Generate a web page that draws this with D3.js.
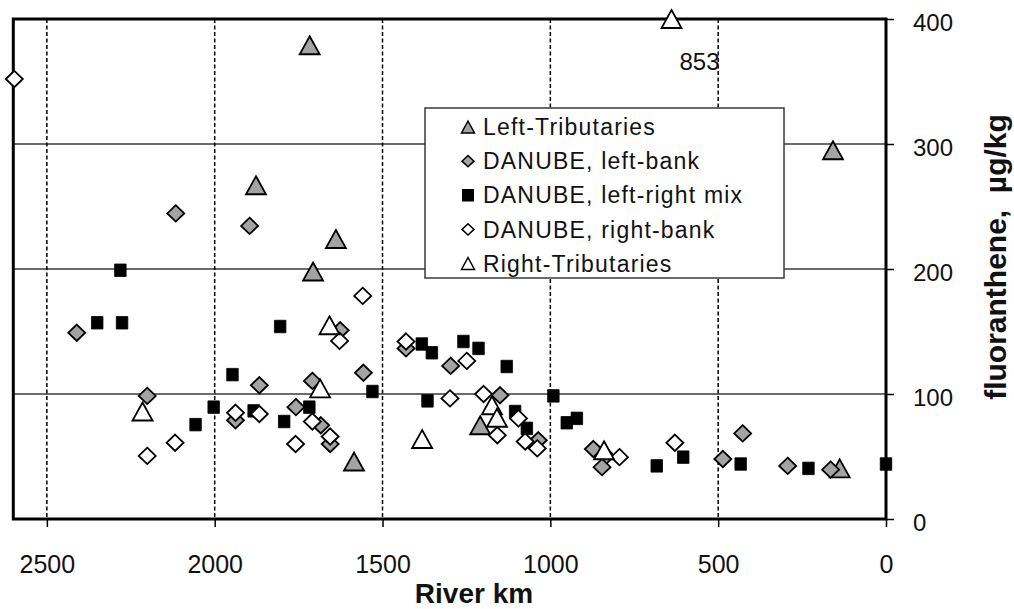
<!DOCTYPE html>
<html>
<head>
<meta charset="utf-8">
<script src="https://cdn.jsdelivr.net/npm/d3@7"></script>
<style>
  body { margin: 0; background: #fff; }
  svg { display: block; }
  text { font-family: "Liberation Sans", Arial, Helvetica, sans-serif; fill: #111; }
</style>
</head>
<body>
<svg id="chart" width="1014" height="609"></svg>
<script>
// Axis ticks
const kmTicks = [2500, 2000, 1500, 1000, 500, 0];
const valueTicks = [0, 100, 200, 300, 400];

// Fluoranthene in sediments, [river km, µg/kg]
const leftTributaries = [
  [1717, 379], [1877, 267], [1639, 224], [1707, 198], [1585, 46],
  [1209, 75], [158, 295], [138, 40.5]
];
const danubeLeftBank = [
  [2411, 149], [2116, 244.5], [1896, 234.5], [1626, 151], [1867, 107],
  [1709, 110.5], [2201, 98.5], [1938, 79], [1758, 89.5], [1684, 75],
  [1656, 60], [1557, 117], [1430, 136.5], [1297, 122.5], [1150, 99],
  [1036, 63], [872, 56], [834, 50.5], [846, 41.5], [486, 48],
  [427, 68.5], [293, 42.5], [165, 39.5]
];
const danubeMix = [
  [2281, 199], [2350, 157], [2276, 157], [1805, 154], [1947, 115.5],
  [2003, 89.5], [2057, 75.5], [1884, 86.5], [1718, 89.5], [1793, 78],
  [1530, 102], [1383, 140], [1353, 133], [1259, 142], [1214, 136.5],
  [1130, 122], [1366, 94.5], [991, 98.5], [1105, 86], [1070, 72.5],
  [951, 77], [921, 80.5], [683, 42.5], [604, 49.5], [433, 44],
  [231, 40.5], [0, 44]
];
const danubeRightBank = [
  [2597, 352], [1628, 142.5], [1559, 178.5], [2118, 61], [2201, 50.5],
  [1938, 85], [1867, 84], [1759, 60], [1709, 78], [1656, 66],
  [1430, 142], [1249, 126.5], [1299, 96.5], [1199, 100], [1158, 67],
  [1095, 80.5], [1075, 62], [1039, 56.5], [794, 49.5], [629, 61]
];
const rightTributaries = [
  [639, 853], [1658, 155], [1686, 104.5], [2215, 86], [1382, 64],
  [1174, 91], [1159, 81], [840, 55]
];

const seriesNames = [
  "Left-Tributaries",
  "DANUBE, left-bank",
  "DANUBE, left-right mix",
  "DANUBE, right-bank",
  "Right-Tributaries"
];

const svg = d3.select("#chart");
const plot = { left: 13.3, right: 886, top: 19, bottom: 519 };

const x = d3.scaleLinear().domain([2600, 0]).range([plot.left, plot.right]);
const y = d3.scaleLinear().domain([0, 400]).range([plot.bottom, plot.top]);
const yMax = y.domain()[1];

const GRAY = "#a3a3a3";

// Marker path generators
const trianglePath = (w, h) => `M0,${-h / 2}L${w / 2},${h / 2}L${-w / 2},${h / 2}Z`;
const diamondPath = (rx, ry) => `M0,${-ry}L${rx},0L0,${ry}L${-rx},0Z`;
const squarePath = (w, h) => `M${-w / 2},${-h / 2}h${w}v${h}h${-w}Z`;

const series = [
  { name: seriesNames[0], data: leftTributaries, fill: GRAY,
    shape: trianglePath(20, 18), legendShape: trianglePath(13, 12), sw: 1.8 },
  { name: seriesNames[1], data: danubeLeftBank, fill: GRAY,
    shape: diamondPath(8.5, 8.2), legendShape: diamondPath(6, 5.6), sw: 1.8 },
  { name: seriesNames[2], data: danubeMix, fill: "#000",
    shape: squarePath(11.5, 12.5), legendShape: squarePath(10.5, 11), sw: 0.8 },
  { name: seriesNames[3], data: danubeRightBank, fill: "#fff",
    shape: diamondPath(8.5, 8.2), legendShape: diamondPath(6, 5.6), sw: 1.8 },
  { name: seriesNames[4], data: rightTributaries, fill: "#fff",
    shape: trianglePath(20, 18), legendShape: trianglePath(13, 12), sw: 1.8 }
];

// Horizontal gridlines
svg.append("g")
  .selectAll("line")
  .data(valueTicks.filter(v => v > 0 && v < yMax))
  .join("line")
  .attr("x1", plot.left).attr("x2", plot.right)
  .attr("y1", d => y(d)).attr("y2", d => y(d))
  .attr("stroke", "#3a3a3a").attr("stroke-width", 1.5);

// Vertical dashed gridlines
svg.append("g")
  .selectAll("line")
  .data(kmTicks.filter(k => k > 0))
  .join("line")
  .attr("x1", d => x(d)).attr("x2", d => x(d))
  .attr("y1", plot.top).attr("y2", plot.bottom)
  .attr("stroke", "#000").attr("stroke-width", 1.5)
  .attr("stroke-dasharray", "4,2.5");

// Bottom axis
const xAxis = svg.append("g")
  .attr("transform", `translate(0,${plot.bottom})`)
  .call(d3.axisBottom(x).tickValues(kmTicks).tickSize(8).tickFormat(d3.format("d")));
xAxis.select(".domain").remove();
xAxis.selectAll(".tick line").attr("stroke", "#000").attr("stroke-width", 1.5);
xAxis.selectAll(".tick text")
  .attr("y", 54).attr("dy", 0)
  .style("font-size", "25px").attr("fill", "#111");

// Right axis
const yAxis = svg.append("g")
  .attr("transform", `translate(${plot.right},0)`)
  .call(d3.axisRight(y).tickValues(valueTicks).tickSize(8).tickFormat(d3.format("d")));
yAxis.select(".domain").remove();
yAxis.selectAll(".tick line").attr("stroke", "#000").attr("stroke-width", 1.5);
yAxis.selectAll(".tick text")
  .attr("x", 27).attr("dy", 0).attr("y", 11.6)
  .attr("text-anchor", "start")
  .style("font-size", "24px").attr("fill", "#111");

// Axis titles
svg.append("text")
  .attr("x", 474).attr("y", 603)
  .attr("text-anchor", "middle")
  .style("font-size", "28px").style("font-weight", "bold")
  .text("River km");

svg.append("text")
  .attr("transform", "translate(1006,257) rotate(-90)")
  .attr("text-anchor", "middle")
  .style("font-size", "30px").style("font-weight", "bold")
  .style("white-space", "pre")
  .text("fluoranthene,  µg/kg");

// Legend
const legend = svg.append("g");
legend.append("rect")
  .attr("x", 425).attr("y", 108).attr("width", 359).attr("height", 170)
  .attr("fill", "#fff").attr("stroke", "#3a3a3a").attr("stroke-width", 1.5);
const rowY = d3.scalePoint().domain(seriesNames).range([127, 263.5]);
const rows = legend.selectAll("g.row").data(series).join("g")
  .attr("class", "row")
  .attr("transform", d => `translate(468,${rowY(d.name)})`);
rows.append("path")
  .attr("d", d => d.legendShape)
  .attr("fill", d => d.fill).attr("stroke", "#000").attr("stroke-width", 1.5);
rows.append("text")
  .attr("x", 15).attr("y", 8.2)
  .style("font-size", "23px").style("letter-spacing", "1.2px")
  .text(d => d.name);

// Plot frame
svg.append("rect")
  .attr("x", plot.left).attr("y", plot.top)
  .attr("width", plot.right - plot.left).attr("height", plot.bottom - plot.top)
  .attr("fill", "none").attr("stroke", "#000").attr("stroke-width", 3);

// Data markers; values above the axis maximum sit on the top edge
const py = v => y(Math.min(v, yMax));
series.forEach(s => {
  svg.append("g")
    .selectAll("path")
    .data(s.data)
    .join("path")
    .attr("transform", d => `translate(${x(d[0])},${py(d[1])})`)
    .attr("d", s.shape)
    .attr("fill", s.fill)
    .attr("stroke", "#000")
    .attr("stroke-width", s.sw)
    .attr("stroke-linejoin", "miter");
});

// Value label for the off-scale sample
const offScale = rightTributaries.filter(d => d[1] > yMax);
svg.append("g")
  .selectAll("text")
  .data(offScale)
  .join("text")
  .attr("x", d => x(d[0]) + 28)
  .attr("y", d => py(d[1]) + 51)
  .attr("text-anchor", "middle")
  .style("font-size", "24px")
  .text(d => d[1]);
</script>
</body>
</html>
